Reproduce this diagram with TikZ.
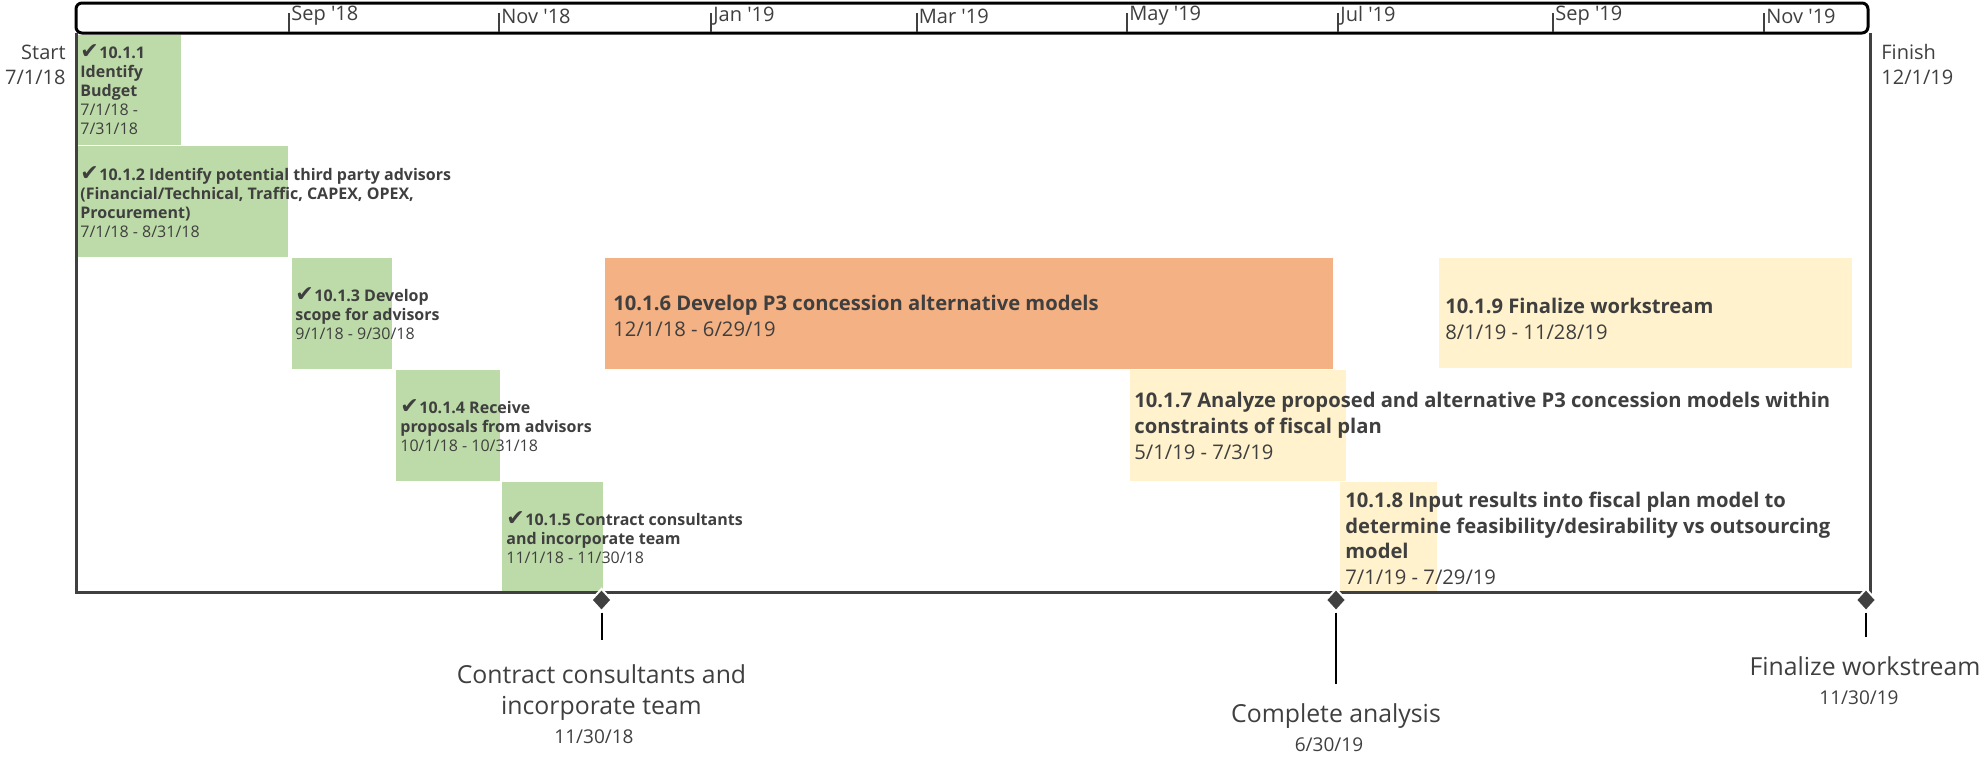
\documentclass[tikz,border=0pt]{standalone}
\usepackage{fontspec}
\setmainfont{Open Sans}[Ligatures=TeXOff]
\newfontfamily\symfont{DejaVu Sans}
\usetikzlibrary{shapes.geometric}
\definecolor{txt}{HTML}{3F3F3F}
\definecolor{grn}{HTML}{BDDBA8}
\definecolor{org}{HTML}{F4B183}
\definecolor{ylw}{HTML}{FFF2CC}
\definecolor{frm}{HTML}{404040}
\newcommand\ckm{{\symfont\fontsize{11}{9.5}\selectfont\char"2714}\kern0.3pt}
\begin{document}
\begin{tikzpicture}[x=0.5pt,y=-0.5pt,
  small/.style={anchor=west, inner sep=0, align=left, text=txt, font=\fontsize{8}{9.5}\selectfont},
  big/.style={anchor=west, inner sep=0, align=left, text=txt, font=\fontsize{10.1}{12.8}\selectfont},
  ticklbl/.style={anchor=west, inner sep=0, text=txt, font=\fontsize{10}{12}\selectfont},
  tickln/.style={draw=frm, line width=1pt},
  endlbl/.style={inner sep=0, text=txt, font=\fontsize{10}{12.5}\selectfont},
  mdia/.style={diamond, fill=frm, draw=white, line width=1pt, minimum width=10.5pt, minimum height=11.5pt, inner sep=0},
  mline/.style={draw=black, line width=1pt},
  mname/.style={anchor=base, inner sep=0, text=txt, font=\fontsize{12.4}{14}\selectfont},
  mdate/.style={anchor=base, inner sep=0, text=txt, font=\fontsize{9.5}{12}\selectfont}]
\useasboundingbox (0,0) rectangle (1982,756);
% task bars
\fill[grn] (76,35) rectangle (181,145);
\fill[grn] (76,146) rectangle (288,257);
\fill[grn] (292,258) rectangle (392,369);
\fill[grn] (396,370) rectangle (500,481);
\fill[grn] (502,482) rectangle (603,592);
\fill[org] (605,258) rectangle (1333,369);
\fill[ylw] (1130,370) rectangle (1346,481);
\fill[ylw] (1340,482) rectangle (1437,592);
\fill[ylw] (1439,258) rectangle (1852,368);
% task texts
\node[small] (t1) at (80,90) {\ckm\textbf{10.1.1}\\\textbf{Identify}\\\textbf{Budget}\\7/1/18 -\\7/31/18};
\node[small] (t2) at (80,202) {\ckm\textbf{10.1.2 Identify potential third party advisors}\\\textbf{(Financial/Technical, Traffic, CAPEX, OPEX,}\\\textbf{Procurement)}\\7/1/18 - 8/31/18};
\node[small] (t3) at (295,313.5) {\ckm\textbf{10.1.3 Develop}\\\textbf{scope for advisors}\\9/1/18 - 9/30/18};
\node[small] (t4) at (400,426) {\ckm\textbf{10.1.4 Receive}\\\textbf{proposals from advisors}\\10/1/18 - 10/31/18};
\node[small] (t5) at (506,538) {\ckm\textbf{10.1.5 Contract consultants}\\\textbf{and incorporate team}\\11/1/18 - 11/30/18};
\node[big] (t6) at (613,316) {\textbf{10.1.6 Develop P3 concession alternative models}\\12/1/18 - 6/29/19};
\node[big] (t7) at (1134,426) {\textbf{10.1.7 Analyze proposed and alternative P3 concession models within}\\\textbf{constraints of fiscal plan}\\5/1/19 - 7/3/19};
\node[big] (t8) at (1345,538.5) {\textbf{10.1.8 Input results into fiscal plan model to}\\\textbf{determine feasibility/desirability vs outsourcing}\\\textbf{model}\\7/1/19 - 7/29/19};
\node[big] (t9) at (1445,319) {\textbf{10.1.9 Finalize workstream}\\8/1/19 - 11/28/19};
% frame
\draw[frm, line width=1.5pt] (76,33) -- (76,592) -- (1870,592) -- (1870,33);
% top timescale
\draw[black, line width=1.5pt, rounded corners=3pt, fill=white] (76,3) rectangle (1868,33);
\foreach \x/\l in {289/Sep '18, 499/Nov '18, 711/Jan '19, 916.5/Mar '19, 1127/May '19, 1338/Jul '19, 1553/Sep '19, 1764/Nov '19}{
  \draw[tickln] (\x,13) -- (\x,32);
  \node[ticklbl] at (\x+2,16) {\l};
}
\node[endlbl, anchor=east, align=right] (st) at (66,64.5) {Start\\7/1/18};
\node[endlbl, anchor=west, align=left] (fi) at (1881,64.5) {Finish\\12/1/19};
% milestones
\node[mdia] (m1) at (601.5,600) {};
\node[mdia] (m2) at (1336,600) {};
\node[mdia] (m3) at (1866,600) {};
\coordinate (e1) at (601.5,640);
\coordinate (e2) at (1336,684);
\coordinate (e3) at (1866,637);
\draw[mline] (m1.south) -- (e1);
\draw[mline] (m2.south) -- (e2);
\draw[mline] (m3.south) -- (e3);
\node[mname] (l1a) at (601.5,683) {Contract consultants and};
\node[mname] (l1b) at (601.5,714) {incorporate team};
\node[mdate] (d1) at (594,743) {11/30/18};
\node[mname] (l2) at (1336,722) {Complete analysis};
\node[mdate] (d2) at (1329,751) {6/30/19};
\node[mname] (l3) at (1865,675) {Finalize workstream};
\node[mdate] (d3) at (1859,704) {11/30/19};
\end{tikzpicture}
\end{document}
